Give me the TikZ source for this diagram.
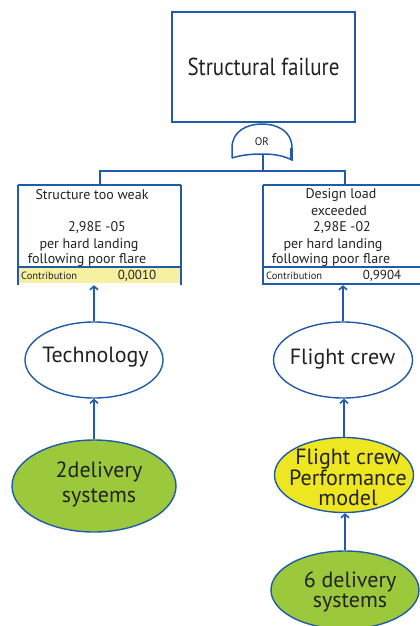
\documentclass[tikz,border=0pt]{standalone}
\usepackage{fontspec}
\setmainfont{PT Sans}
\usetikzlibrary{arrows.meta,shapes.geometric}
\definecolor{fblue}{HTML}{1F5BA8}
\definecolor{fgreen}{HTML}{9CC93B}
\definecolor{fyellow}{HTML}{EFE622}
\definecolor{lyellow}{HTML}{F6F0A2}
\definecolor{txt}{HTML}{222222}
\begin{document}
\begin{tikzpicture}[x=1pt,y=-1pt,
  conn/.style={draw=fblue,line width=2pt},
  arr/.style={draw=fblue,line width=2pt,-{Straight Barb[length=3.5pt,width=8pt,line width=1.6pt]}},
  boxline/.style={draw=fblue,line width=2pt},
  oval/.style={ellipse,draw=fblue,line width=1.4pt,inner sep=0pt},
  ovaltxt/.style={text=txt,align=center,inner sep=0pt,font=\fontsize{22}{#1}\selectfont},
  ovaltxt/.default=20,
  boxtxt/.style={text=txt,inner sep=0pt,font=\fontsize{14}{15}\selectfont},
  valtxt/.style={text=txt,inner sep=0pt,font=\fontsize{13}{14}\selectfont},
  smalltxt/.style={text=txt,inner sep=0pt,font=\fontsize{10.5}{11}\selectfont,anchor=west},
  anchorbox/.style={minimum width=#1,minimum height=100pt,inner sep=0pt}
]
\useasboundingbox (0,0) rectangle (420,626);
\clip (0,0) rectangle (420,626);

% top event
\node[draw=fblue,line width=1.5pt,minimum width=183pt,minimum height=110pt,inner sep=0pt,
  text=txt,font=\fontsize{21}{24}\selectfont] (top) at (263.5,67) {\scalebox{1}[1.17]{Structural failure}};

% OR gate
\draw[draw=fblue,line width=1.5pt,fill=white] (232,158) -- (232,148)
  .. controls (232,131) and (247,124) .. (262,124)
  .. controls (277,124) and (292,131) .. (292,148) -- (292,160)
  .. controls (282,155) and (272,154) .. (262,154)
  .. controls (252,154) and (241,155) .. (232,158);
\draw[draw=fblue,line width=2.5pt] (291.5,148) -- (291.5,160);
\node[text=txt,inner sep=0pt,font=\fontsize{11}{12}\selectfont] (orlabel) at (262,142) {OR};
\coordinate (gout) at (263,154);
\coordinate (bus) at (263,171);
\coordinate (lt) at (100,185);
\coordinate (rt) at (345,185);
\draw[conn] (gout) -- (bus);
\draw[conn] (bus) -| (lt);
\draw[conn] (bus) -| (rt);

% left box
\node[anchorbox=163pt] (lbox) at (99.5,235) {};
\fill[lyellow] (18,267) rectangle (181,283);
\draw[boxline] (lbox.north west) -- (lbox.north east);
\draw[boxline] (lbox.north west) -- (lbox.south west);
\draw[boxline] (lbox.north east) -- (lbox.south east);
\draw[boxline] (18,267) -- (181,267);
\node[boxtxt] (l1) at (92,195) {Structure too weak};
\node[boxtxt] (l2) at (97,228) {2,98E -05};
\node[boxtxt] (l3) at (89,245) {per hard landing};
\node[boxtxt] (l4) at (87,260) {following poor flare};
\node[smalltxt] (lc) at (21,275.5) {Contribution};
\node[valtxt] (lv) at (137,276) {0,0010};

% right box
\node[anchorbox=158pt] (rbox) at (342,235) {};
\draw[boxline] (rbox.north west) -- (rbox.north east);
\draw[boxline] (rbox.north west) -- (rbox.south west);
\draw[boxline] (263,267) -- (421,267);
\draw[boxline] (263,284) -- (421,284);
\node[boxtxt] (r1) at (341,195) {Design load};
\node[boxtxt] (r2) at (339,211) {exceeded};
\node[boxtxt] (r3) at (342,228) {2,98E -02};
\node[boxtxt] (r4) at (333,245) {per hard landing};
\node[boxtxt] (r5) at (331,260) {following poor flare};
\node[smalltxt] (rc) at (266,275.5) {Contribution};
\node[valtxt] (rv) at (382,276) {0,9904};

% influence nodes
\node[oval,minimum width=138pt,minimum height=76pt,fill=white] (tech) at (94,360) {};
\node[oval,minimum width=164pt,minimum height=92pt,fill=fgreen] (del2) at (94,486) {};
\node[oval,minimum width=139pt,minimum height=76pt,fill=white] (crew) at (343,360) {};
\node[oval,minimum width=139pt,minimum height=75pt,fill=fyellow] (perf) at (344,475) {};
\node[oval,minimum width=148pt,minimum height=78pt,fill=fgreen] (del6) at (345,590) {};

\node[ovaltxt] (techt) at (95.5,357) {Technology};
\node[ovaltxt=25] (del2t) at (99,484) {2delivery\\systems};
\node[ovaltxt] (crewt) at (342.5,359) {Flight crew};
\node[ovaltxt] (perft) at (348,477) {Flight crew\\Performance\\model};
\node[ovaltxt] (del6t) at (350,591.5) {6 delivery\\systems};

% arrows
\draw[arr] (tech.north) -- (tech.north |- lbox.south);
\draw[arr] (crew.north) -- (crew.north |- rbox.south);
\draw[arr] (del2.north) -- (tech.south);
\draw[arr] (perf.north) -- (perf.north |- crew.south);
\draw[arr] (del6.north) -- (del6.north |- perf.south);
\end{tikzpicture}
\end{document}
